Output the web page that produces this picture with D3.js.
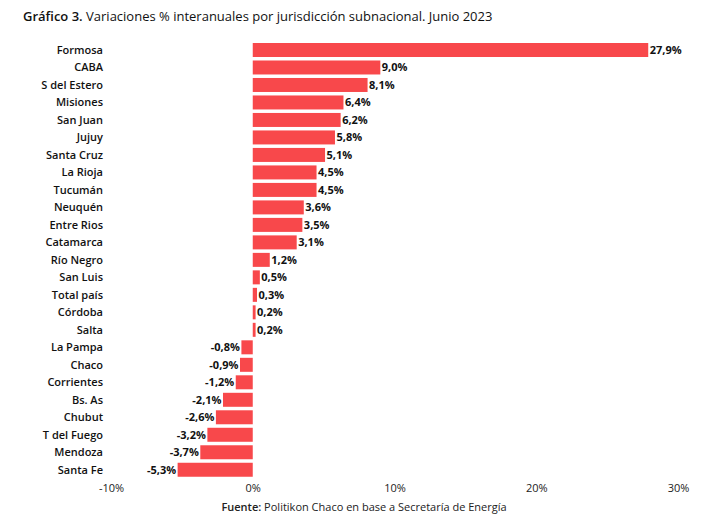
<!DOCTYPE html>
<html>
<head>
<meta charset="utf-8">
<script src="https://cdn.jsdelivr.net/npm/d3@7"></script>
<style>
  body { margin: 0; background: #fff; }
  text { font-family: "Open Sans", sans-serif; }
</style>
</head>
<body>
<div id="chart"></div>
<script>
// Variaciones % interanuales por jurisdicción - Junio 2023
const provinces = ["Formosa", "CABA", "S del Estero", "Misiones", "San Juan", "Jujuy", "Santa Cruz",
  "La Rioja", "Tucumán", "Neuquén", "Entre Rios", "Catamarca", "Río Negro", "San Luis", "Total país",
  "Córdoba", "Salta", "La Pampa", "Chaco", "Corrientes", "Bs. As", "Chubut", "T del Fuego", "Mendoza", "Santa Fe"];
const variations = [27.9, 9.0, 8.1, 6.4, 6.2, 5.8, 5.1, 4.5, 4.5, 3.6, 3.5, 3.1, 1.2, 0.5, 0.3,
  0.2, 0.2, -0.8, -0.9, -1.2, -2.1, -2.6, -3.2, -3.7, -5.3];
const xTicks = [-10, 0, 10, 20, 30];

const data = provinces.map((p, i) => ({ name: p, value: variations[i] }));

const width = 727, height = 522;
const svg = d3.select("#chart").append("svg")
  .attr("width", width)
  .attr("height", height);

const x = d3.scaleLinear().domain([-10, 30]).range([111, 678]);
const y = d3.scaleBand()
  .domain(provinces)
  .range([41.25, 41.25 + 17.49 * provinces.length])
  .paddingInner(0.2)
  .paddingOuter(0.1);

const fmt = v => d3.format(".1f")(v).replace(".", ",").replace("−", "-") + "%";

// title
const title = svg.append("text")
  .attr("x", 23)
  .attr("y", 21)
  .style("font-size", "13px")
  .attr("fill", "#111");
title.append("tspan").style("font-weight", 600).text("Gráfico 3.");
title.append("tspan").text(" Variaciones % interanuales por jurisdicción subnacional. Junio 2023");

// bars
svg.selectAll("rect.bar")
  .data(data)
  .enter()
  .append("rect")
  .attr("class", "bar")
  .attr("x", d => x(Math.min(0, d.value)))
  .attr("y", d => y(d.name))
  .attr("width", d => Math.abs(x(d.value) - x(0)))
  .attr("height", y.bandwidth())
  .attr("fill", "#f8484b");

// category labels
svg.selectAll("text.cat")
  .data(data)
  .enter()
  .append("text")
  .attr("class", "cat")
  .attr("x", 103)
  .attr("y", d => y(d.name) + y.bandwidth() / 2)
  .attr("dy", "0.35em")
  .attr("text-anchor", "end")
  .style("font-size", "11px")
  .style("font-weight", 600)
  .attr("fill", "#111")
  .text(d => d.name);

// value labels
svg.selectAll("text.val")
  .data(data)
  .enter()
  .append("text")
  .attr("class", "val")
  .attr("x", d => d.value >= 0 ? x(d.value) + 1.5 : x(d.value) - 1.5)
  .attr("y", d => y(d.name) + y.bandwidth() / 2)
  .attr("dy", "0.35em")
  .attr("text-anchor", d => d.value >= 0 ? "start" : "end")
  .style("font-size", "11px")
  .style("font-weight", 700)
  .attr("fill", "#111")
  .text(d => fmt(d.value));

// x axis (labels only)
const axis = svg.append("g")
  .attr("transform", "translate(0,480)")
  .call(d3.axisBottom(x).tickValues(xTicks).tickSize(0).tickPadding(4).tickFormat(d => d + "%"));
axis.select(".domain").remove();
axis.selectAll("text")
  .style("font-family", "'Open Sans', sans-serif")
  .style("font-size", "11px")
  .attr("fill", "#222");

// source
const src = svg.append("text")
  .attr("x", 364)
  .attr("y", 511)
  .attr("text-anchor", "middle")
  .style("font-size", "11px")
  .attr("fill", "#222");
src.append("tspan").style("font-weight", 600).text("Fuente:");
src.append("tspan").text(" Politikon Chaco en base a Secretaría de Energía");
</script>
</body>
</html>
